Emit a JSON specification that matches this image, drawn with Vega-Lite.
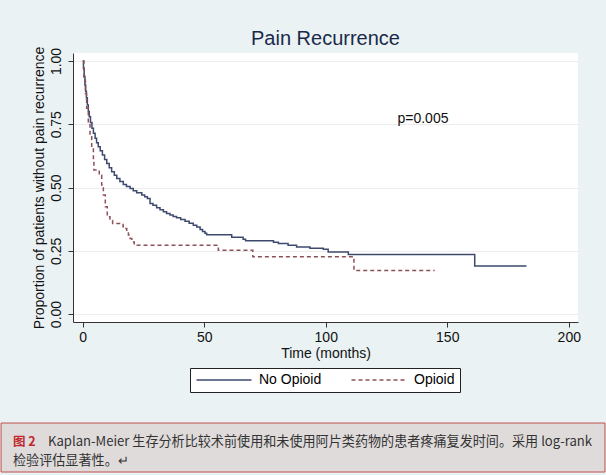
{
  "$schema": "https://vega.github.io/schema/vega-lite/v6.json",
  "width": 505,
  "height": 269,
  "autosize": {"type": "none"},
  "padding": {"left": 73, "top": 53, "right": 28, "bottom": 153},
  "background": "#EAF2F3",
  "title": {"text": "Pain Recurrence", "frame": "group", "anchor": "middle", "fontSize": 20, "font": "Liberation Sans", "fontWeight": "normal", "color": "#1b2a4a", "baseline": "alphabetic", "offset": 7, "dy": 26},
  "config": {"view": {"stroke": null, "fill": "white"}, "font": "Liberation Sans"},
  "datasets": {
    "km": [
      {"g": "No Opioid", "t": 0, "s": 1.0},
      {"g": "No Opioid", "t": 0.3, "s": 0.97},
      {"g": "No Opioid", "t": 0.6, "s": 0.94},
      {"g": "No Opioid", "t": 0.9, "s": 0.905},
      {"g": "No Opioid", "t": 1.2, "s": 0.88},
      {"g": "No Opioid", "t": 1.5, "s": 0.855},
      {"g": "No Opioid", "t": 1.9, "s": 0.826},
      {"g": "No Opioid", "t": 2.3, "s": 0.8},
      {"g": "No Opioid", "t": 2.7, "s": 0.78},
      {"g": "No Opioid", "t": 3.2, "s": 0.757},
      {"g": "No Opioid", "t": 3.8, "s": 0.734},
      {"g": "No Opioid", "t": 4.4, "s": 0.714},
      {"g": "No Opioid", "t": 5.1, "s": 0.695},
      {"g": "No Opioid", "t": 5.7, "s": 0.677},
      {"g": "No Opioid", "t": 6.4, "s": 0.661},
      {"g": "No Opioid", "t": 7.2, "s": 0.645},
      {"g": "No Opioid", "t": 8.1, "s": 0.628},
      {"g": "No Opioid", "t": 9.0, "s": 0.611},
      {"g": "No Opioid", "t": 9.9, "s": 0.595},
      {"g": "No Opioid", "t": 10.9, "s": 0.578},
      {"g": "No Opioid", "t": 11.9, "s": 0.562},
      {"g": "No Opioid", "t": 13.0, "s": 0.548},
      {"g": "No Opioid", "t": 14.0, "s": 0.536},
      {"g": "No Opioid", "t": 15.3, "s": 0.524},
      {"g": "No Opioid", "t": 16.7, "s": 0.512},
      {"g": "No Opioid", "t": 18.0, "s": 0.504},
      {"g": "No Opioid", "t": 19.5, "s": 0.496},
      {"g": "No Opioid", "t": 20.8, "s": 0.487},
      {"g": "No Opioid", "t": 22.2, "s": 0.479},
      {"g": "No Opioid", "t": 24.3, "s": 0.47},
      {"g": "No Opioid", "t": 25.5, "s": 0.463},
      {"g": "No Opioid", "t": 26.6, "s": 0.457},
      {"g": "No Opioid", "t": 27.7, "s": 0.437},
      {"g": "No Opioid", "t": 28.9, "s": 0.43},
      {"g": "No Opioid", "t": 30.4, "s": 0.42},
      {"g": "No Opioid", "t": 31.8, "s": 0.412},
      {"g": "No Opioid", "t": 33.2, "s": 0.404},
      {"g": "No Opioid", "t": 34.5, "s": 0.397},
      {"g": "No Opioid", "t": 35.9, "s": 0.391},
      {"g": "No Opioid", "t": 37.2, "s": 0.385},
      {"g": "No Opioid", "t": 38.6, "s": 0.38},
      {"g": "No Opioid", "t": 40.3, "s": 0.374},
      {"g": "No Opioid", "t": 42.1, "s": 0.367},
      {"g": "No Opioid", "t": 43.8, "s": 0.359},
      {"g": "No Opioid", "t": 45.5, "s": 0.351},
      {"g": "No Opioid", "t": 46.9, "s": 0.344},
      {"g": "No Opioid", "t": 48.3, "s": 0.334},
      {"g": "No Opioid", "t": 49.3, "s": 0.326},
      {"g": "No Opioid", "t": 50.3, "s": 0.319},
      {"g": "No Opioid", "t": 51.0, "s": 0.313},
      {"g": "No Opioid", "t": 61.3, "s": 0.303},
      {"g": "No Opioid", "t": 66.0, "s": 0.295},
      {"g": "No Opioid", "t": 67.0, "s": 0.29},
      {"g": "No Opioid", "t": 78.5, "s": 0.284},
      {"g": "No Opioid", "t": 80.5, "s": 0.279},
      {"g": "No Opioid", "t": 84.5, "s": 0.272},
      {"g": "No Opioid", "t": 88.0, "s": 0.265},
      {"g": "No Opioid", "t": 93.5, "s": 0.26},
      {"g": "No Opioid", "t": 99.0, "s": 0.256},
      {"g": "No Opioid", "t": 101.0, "s": 0.245},
      {"g": "No Opioid", "t": 109.3, "s": 0.235},
      {"g": "No Opioid", "t": 161.3, "s": 0.19},
      {"g": "No Opioid", "t": 182.6, "s": 0.19},
      {"g": "Opioid", "t": 0, "s": 1.0},
      {"g": "Opioid", "t": 0.5, "s": 0.93},
      {"g": "Opioid", "t": 1.1, "s": 0.872},
      {"g": "Opioid", "t": 1.6, "s": 0.813},
      {"g": "Opioid", "t": 2.3, "s": 0.76},
      {"g": "Opioid", "t": 3.0, "s": 0.708},
      {"g": "Opioid", "t": 3.7, "s": 0.655},
      {"g": "Opioid", "t": 4.4, "s": 0.602},
      {"g": "Opioid", "t": 4.6, "s": 0.569},
      {"g": "Opioid", "t": 6.8, "s": 0.549},
      {"g": "Opioid", "t": 7.8, "s": 0.51},
      {"g": "Opioid", "t": 8.5, "s": 0.47},
      {"g": "Opioid", "t": 9.3, "s": 0.424},
      {"g": "Opioid", "t": 10.1, "s": 0.384},
      {"g": "Opioid", "t": 11.2, "s": 0.37},
      {"g": "Opioid", "t": 12.3, "s": 0.358},
      {"g": "Opioid", "t": 16.6, "s": 0.345},
      {"g": "Opioid", "t": 17.4, "s": 0.338},
      {"g": "Opioid", "t": 18.1, "s": 0.325},
      {"g": "Opioid", "t": 18.8, "s": 0.312},
      {"g": "Opioid", "t": 19.5, "s": 0.298},
      {"g": "Opioid", "t": 20.2, "s": 0.285},
      {"g": "Opioid", "t": 21.2, "s": 0.272},
      {"g": "Opioid", "t": 55.8, "s": 0.252},
      {"g": "Opioid", "t": 70.0, "s": 0.226},
      {"g": "Opioid", "t": 111.6, "s": 0.172},
      {"g": "Opioid", "t": 144.8, "s": 0.172}
    ]
  },
  "layer": [
    {
      "data": {"name": "km"},
      "mark": {"type": "line", "interpolate": "step-after", "strokeWidth": 1.5},
      "encoding": {
        "x": {
          "field": "t", "type": "quantitative",
          "scale": {"domain": [-4, 203.8], "nice": false, "zero": false},
          "axis": {
            "values": [0, 50, 100, 150, 200], "title": "Time (months)", "grid": false,
            "labelAngle": 0, "labelFontSize": 14, "labelFont": "Liberation Sans", "labelColor": "#111",
            "labelPadding": 3, "labelFlush": false, "tickSize": 5, "tickColor": "#333", "domainColor": "#333",
            "titleFontSize": 14, "titleFont": "Liberation Sans", "titleFontWeight": "normal", "titleColor": "#111",
            "titleBaseline": "alphabetic", "titleY": 35
          }
        },
        "y": {
          "field": "s", "type": "quantitative",
          "scale": {"domain": [-0.0316, 1.0316], "nice": false, "zero": false},
          "axis": {
            "values": [0, 0.25, 0.5, 0.75, 1], "format": ".2f",
            "title": "Proportion of patients without pain recurrence",
            "labelAngle": 270, "labelAlign": "center", "labelBaseline": "bottom", "labelPadding": 5,
            "labelFontSize": 14, "labelFont": "Liberation Sans", "labelColor": "#111", "labelFlush": false,
            "tickSize": 5, "tickColor": "#333", "domainColor": "#333",
            "grid": true, "gridColor": "#ececec",
            "titleFontSize": 14, "titleFont": "Liberation Sans", "titleFontWeight": "normal", "titleColor": "#111",
            "titleAngle": 270, "titleBaseline": "bottom", "titleAlign": "center", "titleX": -27, "titleY": 134.5
          }
        },
        "color": {
          "field": "g", "type": "nominal",
          "scale": {"domain": ["No Opioid", "Opioid"], "range": ["#3d4a6d", "#8e5058"]},
          "legend": {
            "title": null, "orient": "none", "legendX": 117, "legendY": 315, "direction": "horizontal",
            "symbolType": "M-5,0H5", "symbolSize": 121, "symbolStrokeWidth": 1.5, "symbolOffset": 22,
            "labelFontSize": 14, "labelFont": "Liberation Sans", "labelColor": "#000", "labelOffset": 28,
            "columnPadding": 26, "padding": 5, "fillColor": "white", "strokeColor": "#222"
          }
        },
        "strokeDash": {
          "field": "g", "type": "nominal",
          "scale": {"domain": ["No Opioid", "Opioid"], "range": [[1, 0], [4, 3]]},
          "legend": {
            "title": null, "orient": "none", "legendX": 117, "legendY": 315, "direction": "horizontal",
            "symbolType": "M-5,0H5", "symbolSize": 121, "symbolStrokeWidth": 1.5, "symbolOffset": 22,
            "labelFontSize": 14, "labelFont": "Liberation Sans", "labelColor": "#000", "labelOffset": 28,
            "columnPadding": 26, "padding": 5, "fillColor": "white", "strokeColor": "#222"
          }
        }
      }
    },
    {
      "data": {"values": [{"label": "p=0.005"}]},
      "mark": {"type": "text", "fontSize": 14, "font": "Liberation Sans", "align": "center", "baseline": "alphabetic", "color": "#111"},
      "encoding": {
        "x": {"datum": 140, "type": "quantitative", "scale": {"domain": [-4, 203.8], "nice": false, "zero": false}},
        "y": {"datum": 0.755, "type": "quantitative", "scale": {"domain": [-0.0316, 1.0316], "nice": false, "zero": false}},
        "text": {"field": "label"}
      }
    },
    {
      "data": {"values": [{"fig": "图 2", "line1": "Kaplan-Meier 生存分析比较术前使用和未使用阿片类药物的患者疼痛复发时间。采用 log-rank", "line2": "检验评估显著性。↵"}]},
      "layer": [
        {
          "mark": {"type": "rect", "fill": "#dfdbdb", "stroke": "#c0504d", "strokeWidth": 1},
          "encoding": {
            "x": {"datum": -33.6, "type": "quantitative", "scale": {"domain": [-4, 203.8], "nice": false, "zero": false}},
            "x2": {"datum": 214.9},
            "y": {"datum": -0.4309, "type": "quantitative", "scale": {"domain": [-0.0316, 1.0316], "nice": false, "zero": false}},
            "y2": {"datum": -0.6245}
          }
        },
        {
          "mark": {"type": "text", "font": "Noto Sans CJK SC", "fontSize": 12.5, "fontWeight": "bold", "align": "left", "baseline": "middle", "color": "#c0282d"},
          "encoding": {
            "x": {"datum": -28.7, "type": "quantitative", "scale": {"domain": [-4, 203.8], "nice": false, "zero": false}},
            "y": {"datum": -0.506, "type": "quantitative", "scale": {"domain": [-0.0316, 1.0316], "nice": false, "zero": false}},
            "text": {"field": "fig"}
          }
        },
        {
          "mark": {"type": "text", "font": "Noto Sans CJK SC", "fontSize": 13.1, "align": "left", "baseline": "middle", "color": "#333"},
          "encoding": {
            "x": {"datum": -14.3, "type": "quantitative", "scale": {"domain": [-4, 203.8], "nice": false, "zero": false}},
            "y": {"datum": -0.506, "type": "quantitative", "scale": {"domain": [-0.0316, 1.0316], "nice": false, "zero": false}},
            "text": {"field": "line1"}
          }
        },
        {
          "mark": {"type": "text", "font": "Noto Sans CJK SC", "fontSize": 13.1, "align": "left", "baseline": "middle", "color": "#333"},
          "encoding": {
            "x": {"datum": -28.7, "type": "quantitative", "scale": {"domain": [-4, 203.8], "nice": false, "zero": false}},
            "y": {"datum": -0.5811, "type": "quantitative", "scale": {"domain": [-0.0316, 1.0316], "nice": false, "zero": false}},
            "text": {"field": "line2"}
          }
        }
      ]
    }
  ]
}
